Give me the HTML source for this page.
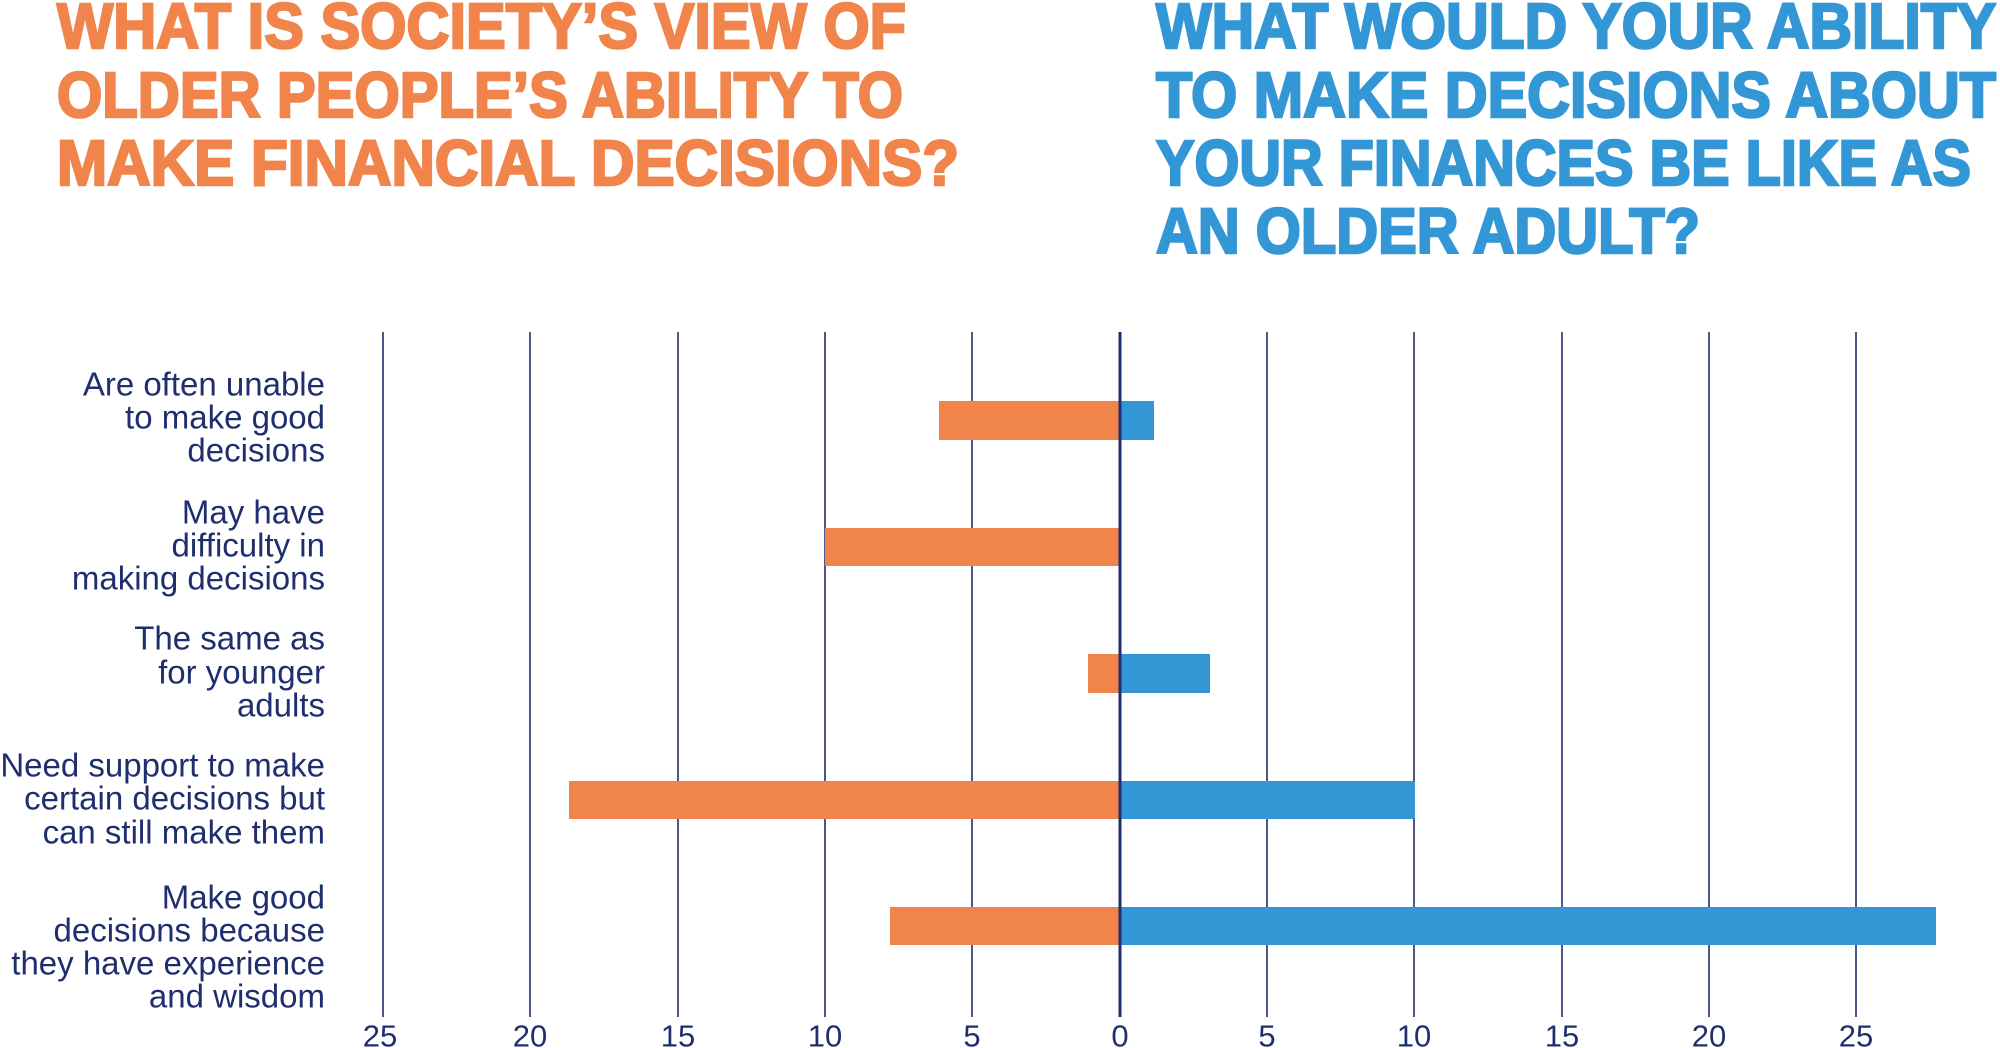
<!DOCTYPE html>
<html><head><meta charset="utf-8"><style>
html,body{margin:0;padding:0;background:#fff;width:2000px;height:1048px;overflow:hidden}
svg{display:block}
.t{font-family:"Liberation Sans",sans-serif;font-weight:bold;font-size:64px;stroke-width:2.5}
.l{font-family:"Liberation Sans",sans-serif;font-size:33px;fill:#1F2E6E}
</style></head><body>
<svg width="2000" height="1048" viewBox="0 0 2000 1048" xmlns="http://www.w3.org/2000/svg">
<g class="t" fill="#F0844A" stroke="#F0844A">
<text x="57" y="48" textLength="849" lengthAdjust="spacingAndGlyphs">WHAT IS SOCIETY’S VIEW OF</text>
<text x="57" y="117" textLength="846" lengthAdjust="spacingAndGlyphs">OLDER PEOPLE’S ABILITY TO</text>
<text x="57" y="185" textLength="902" lengthAdjust="spacingAndGlyphs">MAKE FINANCIAL DECISIONS?</text>
</g>
<g class="t" fill="#3397D6" stroke="#3397D6">
<text x="1156" y="48" textLength="840" lengthAdjust="spacingAndGlyphs">WHAT WOULD YOUR ABILITY</text>
<text x="1156" y="117" textLength="840" lengthAdjust="spacingAndGlyphs">TO MAKE DECISIONS ABOUT</text>
<text x="1156" y="185" textLength="815" lengthAdjust="spacingAndGlyphs">YOUR FINANCES BE LIKE AS</text>
<text x="1156" y="253" textLength="544" lengthAdjust="spacingAndGlyphs">AN OLDER ADULT?</text>
</g>
<g stroke="#1F2E6E" stroke-width="1.6">
<line x1="383" y1="332" x2="383" y2="1017"/><line x1="530" y1="332" x2="530" y2="1017"/>
<line x1="678" y1="332" x2="678" y2="1017"/><line x1="825" y1="332" x2="825" y2="1017"/>
<line x1="972" y1="332" x2="972" y2="1017"/><line x1="1267" y1="332" x2="1267" y2="1017"/>
<line x1="1414" y1="332" x2="1414" y2="1017"/><line x1="1562" y1="332" x2="1562" y2="1017"/>
<line x1="1709" y1="332" x2="1709" y2="1017"/><line x1="1856" y1="332" x2="1856" y2="1017"/>
</g>
<g fill="#F0844A">
<rect x="939" y="401" width="181" height="39"/>
<rect x="825" y="528" width="295" height="38"/>
<rect x="1088" y="654" width="32" height="39"/>
<rect x="569" y="781" width="551" height="38"/>
<rect x="890" y="907" width="230" height="38"/>
</g>
<g fill="#3397D6">
<rect x="1120" y="401" width="34" height="39"/>
<rect x="1120" y="654" width="90" height="39"/>
<rect x="1120" y="781" width="295" height="38"/>
<rect x="1120" y="907" width="816" height="38"/>
</g>
<line x1="1120" y1="332" x2="1120" y2="1017" stroke="#1F2E6E" stroke-width="3"/>
<g class="l" text-anchor="end" dominant-baseline="central">
<text x="325" y="384">Are often unable</text><text x="325" y="417">to make good</text><text x="325" y="450">decisions</text>
<text x="325" y="512">May have</text><text x="325" y="545">difficulty in</text><text x="325" y="578">making decisions</text>
<text x="325" y="638">The same as</text><text x="325" y="672">for younger</text><text x="325" y="705">adults</text>
<text x="325" y="765">Need support to make</text><text x="325" y="798">certain decisions but</text><text x="325" y="832">can still make them</text>
<text x="325" y="897">Make good</text><text x="325" y="930">decisions because</text><text x="325" y="963">they have experience</text><text x="325" y="996">and wisdom</text>
</g>
<g class="l" text-anchor="middle" dominant-baseline="central" style="font-size:31px">
<text x="380" y="1036">25</text><text x="530" y="1036">20</text><text x="678" y="1036">15</text><text x="825" y="1036">10</text><text x="972" y="1036">5</text><text x="1120" y="1036">0</text><text x="1267" y="1036">5</text><text x="1414" y="1036">10</text><text x="1562" y="1036">15</text><text x="1709" y="1036">20</text><text x="1856" y="1036">25</text>
</g>
</svg>
</body></html>
